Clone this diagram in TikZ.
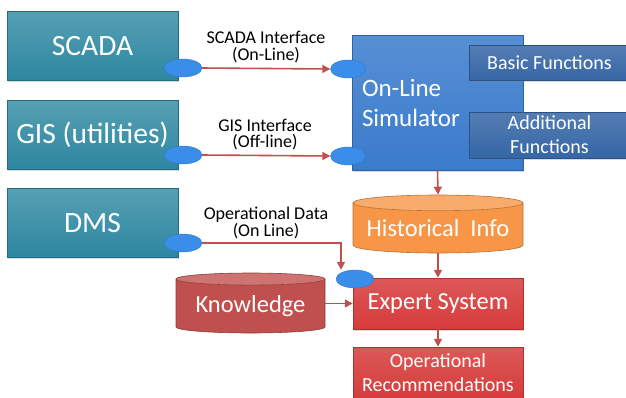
\documentclass[tikz,border=0pt]{standalone}
\usepackage{fontspec}
\setmainfont{Carlito}
\usetikzlibrary{arrows.meta,shapes.geometric,shadows}

\definecolor{srcteal}{HTML}{2C87A0}
\definecolor{simblue}{HTML}{3A7BCC}
\definecolor{funcblue}{HTML}{3666A6}
\definecolor{portblue}{HTML}{3A8EEA}
\definecolor{historange}{HTML}{F79646}
\definecolor{knowred}{HTML}{C0504D}
\definecolor{expred}{HTML}{D63B3B}
\definecolor{linkred}{HTML}{C0504D}

\tikzset{
  boxshadow/.style={drop shadow={opacity=0.3, shadow xshift=1pt, shadow yshift=-1.5pt}},
  srcbox/.style={rectangle, draw=srcteal!80!black, line width=0.5pt,
    top color=srcteal!80!white, bottom color=srcteal, text=white,
    minimum width=171pt, minimum height=69pt, inner sep=0pt,
    font=\fontsize{29.5}{30}\selectfont, boxshadow},
  simbox/.style={rectangle, draw=simblue!80!black, line width=0.5pt,
    top color=simblue!85!white, bottom color=simblue, text=white,
    minimum width=171pt, minimum height=135pt, inner xsep=10pt,
    text width=151pt, align=left, font=\fontsize{25}{30}\selectfont, boxshadow},
  funcbox/.style={rectangle, draw=funcblue!80!black, line width=0.5pt,
    top color=funcblue!85!white, bottom color=funcblue, text=white,
    minimum width=161pt, inner sep=0pt, align=center,
    font=\fontsize{20}{24}\selectfont, boxshadow},
  store/.style={cylinder, shape border rotate=90, aspect=0.11, draw=#1!75!black,
    line width=0.6pt, cylinder uses custom fill, cylinder body fill=#1,
    cylinder end fill=#1!80!white, text=white, inner sep=0pt,
    font=\fontsize{24.5}{30}\selectfont, anchor=shape center},
  redbox/.style={rectangle, draw=expred!80!black, line width=0.5pt,
    top color=expred!85!white, bottom color=expred, text=white,
    minimum width=170pt, inner sep=0pt, align=center, boxshadow},
  port/.style={ellipse, fill=portblue, draw=portblue!85!black, line width=0.4pt,
    minimum width=38pt, minimum height=18pt, inner sep=0pt},
  lbl/.style={align=center, font=\fontsize{18}{16.5}\selectfont},
  link/.style={draw=linkred, line width=1.6pt, -{Triangle[length=8pt, width=8pt]}}
}

\begin{document}
\begin{tikzpicture}[x=1pt, y=-1pt]
  \useasboundingbox (0, 0) rectangle (626, 397);

  % Sources
  \node [srcbox] (scada) at (92.5, 46) {SCADA};
  \node [srcbox] (gis) at (92.5, 135) {GIS (utilities)};
  \node [srcbox] (dms) at (92.5, 223) {DMS};

  % On-line simulator
  \node [simbox] (sim) at (437.5, 102.5) {On-Line\\Simulator};
  \node [funcbox, minimum height=35pt] (basic) at (549.5, 62.5) {Basic Functions};
  \node [funcbox, minimum height=46pt] (addl) at (549.5, 135) {Additional\\Functions};

  % Stores and expert system
  \node [store=historange, minimum width=170pt, minimum height=58pt] (hist)
        at (438, 224) {Historical~ Info};
  \node [store=knowred, minimum width=149pt, minimum height=60pt] (know)
        at (250.5, 303) {Knowledge};
  \node [redbox, minimum height=51pt, font=\fontsize{24.5}{30}\selectfont] (expert)
        at (438, 303.5) {Expert System};
  \node [redbox, minimum height=52pt, font=\fontsize{20}{24}\selectfont] (recom)
        at (438, 373) {Operational\\Recommendations};

  % Ports
  \node [port] (scadaport) at (183, 68) {};
  \node [port] (gisport) at (183, 155) {};
  \node [port] (dmsport) at (183, 243) {};
  \node [port, minimum width=35pt] (simport1) at (348, 69) {};
  \node [port, minimum width=35pt] (simport2) at (348, 156) {};
  \node [port] (expport) at (355, 279) {};

  % Edges
  \draw [link] (scadaport.east) -- (simport1.west);
  \draw [link] (gisport.east) -- (simport2.west);
  \draw [link] (dmsport.east) -| ([xshift=-14pt]expport.north);
  \draw [link] (sim.south) -- (hist.north);
  \draw [link] (hist.south) -- (expert.north);
  \draw [link] (know.east |- expert.west) -- (expert.west);
  \draw [link] (expert.south) -- (recom.north);

  % Interface labels
  \node [lbl] (scadalbl) at (266, 47) {SCADA Interface\\(On-Line)};
  \node [lbl] (gislbl) at (265, 134.5) {GIS Interface\\(Off-line)};
  \node [lbl] (dmslbl) at (266, 223) {Operational Data\\(On Line)};
\end{tikzpicture}
\end{document}
